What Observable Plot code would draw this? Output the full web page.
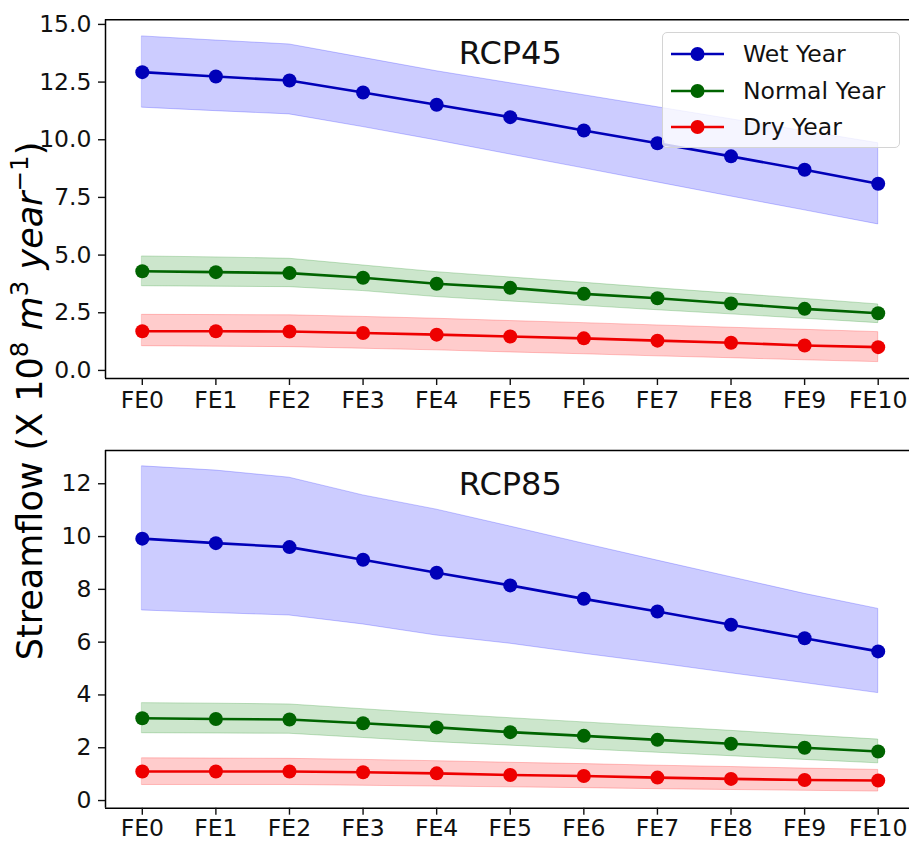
<!DOCTYPE html>
<html><head><meta charset="utf-8">
<script src="https://cdn.jsdelivr.net/npm/d3@7"></script>
<script src="https://cdn.jsdelivr.net/npm/@observablehq/plot@0.6"></script>
<style>
body{margin:0;background:#fff;}
#wrap{position:relative;width:909px;height:844px;overflow:hidden;font-family:"DejaVu Sans",sans-serif;background:#fff;}
#top,#bot{position:absolute;left:0;width:1000px;}
#top{top:0;} #bot{top:420px;}
#ylab{position:absolute;left:30px;top:401px;transform:translate(-50%,-50%) rotate(-90deg);font-size:35px;white-space:nowrap;color:#000;line-height:1;}
#ylab sup{font-size:0.7em;vertical-align:0.55em;line-height:0;}
.legend{position:absolute;left:662px;top:32px;width:238px;height:116px;border:1.2px solid #d4d4d4;border-radius:5px;background:rgba(255,255,255,0.8);box-sizing:border-box;}
.lrow{position:absolute;left:0;height:30px;width:236px;}
.lrow svg{position:absolute;left:8px;top:0;}
.lrow span{position:absolute;left:80px;top:0px;font-size:23.5px;line-height:30px;color:#111;white-space:nowrap;}
</style></head>
<body>
<div id="wrap">
  <div id="top"></div>
  <div id="bot"></div>
  <div id="ylab">Streamflow (X 10<sup>8</sup> <i>m</i><sup>3</sup> <i>year</i><sup>−1</sup>)</div>
  <div class="legend" id="legend"></div>
</div>
<script>
const categories = ["FE0","FE1","FE2","FE3","FE4","FE5","FE6","FE7","FE8","FE9","FE10"];
const seriesNames = ["Wet Year","Normal Year","Dry Year"];
const lineColors = ["#0000b8","#006400","#ee0000"];
const bandColors = ["blue","green","red"];

// RCP45
const wet45    = [12.93,12.74,12.57,12.05,11.52,10.98,10.40,9.85,9.28,8.70,8.09];
const wet45Hi  = [14.48,14.30,14.13,13.55,12.97,12.45,11.93,11.41,10.89,10.37,9.85];
const wet45Lo  = [11.39,11.24,11.10,10.55,9.97,9.36,8.76,8.15,7.54,6.94,6.33];
const normal45   = [4.30,4.26,4.22,4.02,3.76,3.58,3.32,3.13,2.90,2.67,2.48];
const normal45Hi = [4.94,4.90,4.84,4.55,4.26,4.03,3.80,3.56,3.33,3.10,2.86];
const normal45Lo = [3.65,3.63,3.61,3.44,3.18,2.99,2.80,2.61,2.43,2.24,2.05];
const dry45   = [1.70,1.70,1.69,1.62,1.55,1.47,1.39,1.29,1.20,1.08,1.01];
const dry45Hi = [2.41,2.40,2.39,2.32,2.24,2.14,2.05,1.95,1.85,1.76,1.66];
const dry45Lo = [1.05,1.03,1.01,0.94,0.87,0.78,0.70,0.61,0.53,0.44,0.36];

// RCP85
const wet85    = [9.92,9.75,9.60,9.12,8.63,8.15,7.64,7.16,6.66,6.15,5.65];
const wet85Hi  = [12.66,12.50,12.23,11.56,11.02,10.38,9.73,9.09,8.46,7.83,7.26];
const wet85Lo  = [7.20,7.10,7.01,6.67,6.25,5.94,5.56,5.20,4.82,4.45,4.07];
const normal85   = [3.12,3.09,3.07,2.93,2.77,2.59,2.45,2.30,2.15,2.00,1.86];
const normal85Hi = [3.69,3.67,3.64,3.46,3.28,3.12,2.96,2.80,2.64,2.47,2.31];
const normal85Lo = [2.55,2.54,2.53,2.37,2.21,2.08,1.94,1.81,1.68,1.54,1.41];
const dry85   = [1.10,1.10,1.10,1.07,1.03,0.97,0.93,0.87,0.82,0.78,0.76];
const dry85Hi = [1.60,1.59,1.58,1.54,1.49,1.43,1.38,1.32,1.27,1.21,1.16];
const dry85Lo = [0.59,0.59,0.59,0.56,0.53,0.50,0.47,0.43,0.40,0.37,0.34];

const yTicks45 = [0,2.5,5,7.5,10,12.5,15];
const yTicks85 = [0,2,4,6,8,10,12];

function rows(v, lo, hi){ return categories.map((c,i)=>({i, cat:c, v:v[i], lo:lo[i], hi:hi[i]})); }

const set45 = [rows(wet45,wet45Lo,wet45Hi), rows(normal45,normal45Lo,normal45Hi), rows(dry45,dry45Lo,dry45Hi)];
const set85 = [rows(wet85,wet85Lo,wet85Hi), rows(normal85,normal85Lo,normal85Hi), rows(dry85,dry85Lo,dry85Hi)];

function panel(sets, yDomain, yTicks, fmt, title, height, mt, mb, xPad){
  const xDomain = [-0.5, categories.length - 0.5];
  const marks = [];
  sets.forEach((d,k)=>{
    marks.push(Plot.areaY(d,{x:"i", y1:"lo", y2:"hi", fill:bandColors[k], fillOpacity:0.2, stroke:bandColors[k], strokeOpacity:0.22, strokeWidth:1}));
  });
  sets.forEach((d,k)=>{
    marks.push(Plot.lineY(d,{x:"i", y:"v", stroke:lineColors[k], strokeWidth:2.6}));
    marks.push(Plot.dot(d,{x:"i", y:"v", fill:lineColors[k], r:7}));
  });
  // spines: left, top, bottom; the right spine falls outside the 909px picture
  marks.push(Plot.ruleY([yDomain[0], yDomain[1]], {stroke:"#000", strokeWidth:1.5}));
  marks.push(Plot.ruleX([xDomain[0]], {stroke:"#000", strokeWidth:1.5}));
  marks.push(Plot.axisX({ticks:d3.range(categories.length), tickFormat:i=>categories[i], tickSize:7, tickPadding:xPad, fontSize:23.5, label:null, strokeWidth:1.4}));
  marks.push(Plot.axisY({ticks:yTicks, tickFormat:fmt, tickSize:7, tickPadding:7, fontSize:23.5, label:null, strokeWidth:1.4}));
  marks.push(Plot.text([title],{x:()=>categories.indexOf("FE5"), frameAnchor:"top", dy:34, text:d=>d, fontSize:32, lineAnchor:"middle", fill:"#111"}));
  return Plot.plot({
    width:1000, height, marginLeft:105, marginRight:85.5, marginTop:mt, marginBottom:mb,
    style:{fontFamily:"DejaVu Sans", fontSize:"23.5px", color:"#111", background:"transparent"},
    x:{type:"linear", domain:xDomain, label:null},
    y:{domain:yDomain, label:null},
    marks
  });
}

document.getElementById("top").append(panel(set45, [-0.35,15.2], yTicks45, d3.format(".1f"), "RCP45", 420, 19.3, 42, 6));
document.getElementById("bot").append(panel(set85, [-0.29,13.26], yTicks85, d3.format("d"), "RCP85", 424, 30, 36.3, 4));

const leg = document.getElementById("legend");
const rowY = [6, 42.5, 79];
seriesNames.forEach((name,k)=>{
  const r = document.createElement("div");
  r.className = "lrow"; r.style.top = rowY[k] + "px";
  r.innerHTML = `<svg width="56" height="30"><line x1="0" x2="53" y1="15" y2="15" stroke="${lineColors[k]}" stroke-width="2.6"/><circle cx="26.5" cy="15" r="7" fill="${lineColors[k]}"/></svg><span>${name}</span>`;
  leg.append(r);
});
</script>
</body></html>
